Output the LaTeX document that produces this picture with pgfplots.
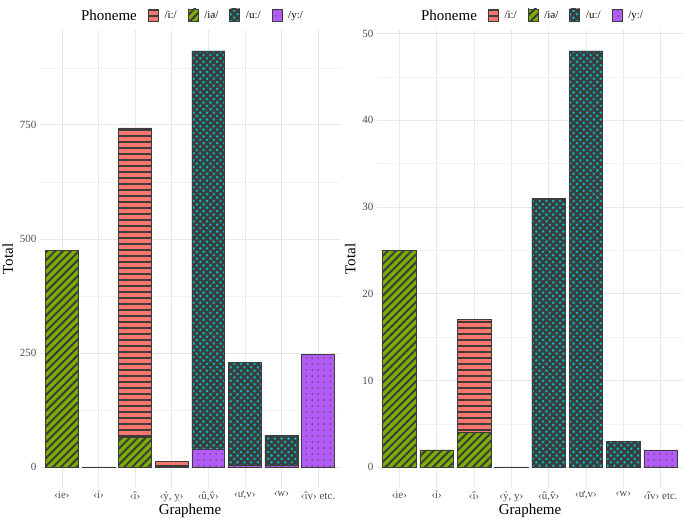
\documentclass[border=0pt]{standalone}
\usepackage{fontspec}
\setmainfont{Liberation Serif}
\usepackage{pgfplots}
\pgfplotsset{compat=1.18}
\usetikzlibrary{patterns.meta}

\definecolor{cI}{HTML}{F8766D}
\definecolor{cIe}{HTML}{7CAE00}
\definecolor{cU}{HTML}{00BFC4}
\definecolor{cY}{HTML}{B35CF5}
\definecolor{pat}{HTML}{3C3C3C}
\definecolor{tickgrey}{HTML}{4D4D4D}

\tikzset{
  pI/.style={fill=cI, draw=pat, line width=0.6pt,
    postaction={pattern={Lines[angle=0,distance=6pt,line width=2.4pt]}, pattern color=pat}},
  pIe/.style={fill=cIe, draw=pat, line width=0.6pt,
    postaction={pattern={Lines[angle=45,distance=5.6pt,line width=2pt]}, pattern color=pat}},
  pU/.style={fill=cU, draw=pat, line width=0.6pt,
    postaction={pattern={Hatch[angle=45,distance=4.8pt,line width=2.6pt]}, pattern color=pat}},
  pY/.style={fill=cY, draw=pat, line width=0.6pt,
    postaction={pattern={Dots[radius=0.75pt,distance=6pt]}, pattern color=pat}},
}

\pgfplotsset{
  panel/.style={
    scale only axis, height=458pt,
    ybar stacked, bar width=0.9,
    xmin=-0.6, xmax=7.6,
    xtick={0,...,7},
    xticklabels={{‹ie›},{‹ỉ›},{‹î›},{‹ỷ, ỵ›},{‹û,v̂›},{‹ư,v›},{‹w›},{‹îv› etc.}},
    axis line style={draw=none}, tick style={draw=none},
    xmajorgrids, ymajorgrids, yminorgrids,
    major grid style={color=black!9, line width=0.6pt},
    minor grid style={color=black!5, line width=0.4pt},
    ticklabel style={font=\fontsize{11}{13}\selectfont, text=tickgrey},
    /pgf/number format/assume math mode=true,
    xlabel={Grapheme}, ylabel={Total},
    label style={font=\fontsize{15}{16}\selectfont},
    xlabel style={yshift=4pt},
    legend style={at={(0.5,1)}, anchor=south, yshift=4pt, draw=none,
      legend columns=-1, font=\fontsize{11}{13}\selectfont,
      /tikz/every odd column/.append style={column sep=4pt},
      /tikz/every even column/.append style={column sep=9pt}},
    legend image code/.code={\draw[##1] (0pt,-5pt) rectangle (10pt,7pt);},
  },
}

\begin{document}
\begin{tikzpicture}
\useasboundingbox (0,0) rectangle (685pt,520pt);

% left panel
\begin{axis}[panel, at={(40pt,32pt)}, anchor=south west, width=300pt,
  ymin=-45.6, ymax=957.6, ytick={0,250,500,750},
  minor ytick={125,375,625,875}]
\addlegendimage{empty legend}
\addlegendentry{\fontsize{15}{16}\selectfont Phoneme}
\addlegendimage{pI}\addlegendentry{/iː/}
\addlegendimage{pIe}\addlegendentry{/iə/}
\addlegendimage{pU}\addlegendentry{/uː/}
\addlegendimage{pY}\addlegendentry{/yː/}
\addplot[pY, forget plot] coordinates {(0,0)(1,0.8)(2,0)(3,0)(4,40)(5,4)(6,4)(7,247)};
\addplot[pU, forget plot] coordinates {(0,0)(1,0)(2,0)(3,0)(4,872)(5,226)(6,66)(7,0)};
\addplot[pIe, forget plot] coordinates {(0,475)(1,0)(2,65)(3,0)(4,0)(5,0)(6,0)(7,0)};
\addplot[pI, forget plot] coordinates {(0,0)(1,0)(2,678)(3,13)(4,0)(5,0)(6,0)(7,0)};
\end{axis}

% right panel
\begin{axis}[panel, at={(377pt,32pt)}, anchor=south west, width=306pt,
  ymin=-2.4, ymax=50.4, ytick={0,10,...,50},
  minor ytick={5,15,...,45}]
\addlegendimage{empty legend}
\addlegendentry{\fontsize{15}{16}\selectfont Phoneme}
\addlegendimage{pI}\addlegendentry{/iː/}
\addlegendimage{pIe}\addlegendentry{/iə/}
\addlegendimage{pU}\addlegendentry{/uː/}
\addlegendimage{pY}\addlegendentry{/yː/}
\addplot[pY, forget plot] coordinates {(0,0)(1,0)(2,0)(3,0.04)(4,0)(5,0)(6,0)(7,2)};
\addplot[pU, forget plot] coordinates {(0,0)(1,0)(2,0)(3,0)(4,31)(5,48)(6,3)(7,0)};
\addplot[pIe, forget plot] coordinates {(0,25)(1,2)(2,4)(3,0)(4,0)(5,0)(6,0)(7,0)};
\addplot[pI, forget plot] coordinates {(0,0)(1,0)(2,13)(3,0)(4,0)(5,0)(6,0)(7,0)};
\end{axis}
\end{tikzpicture}
\end{document}
